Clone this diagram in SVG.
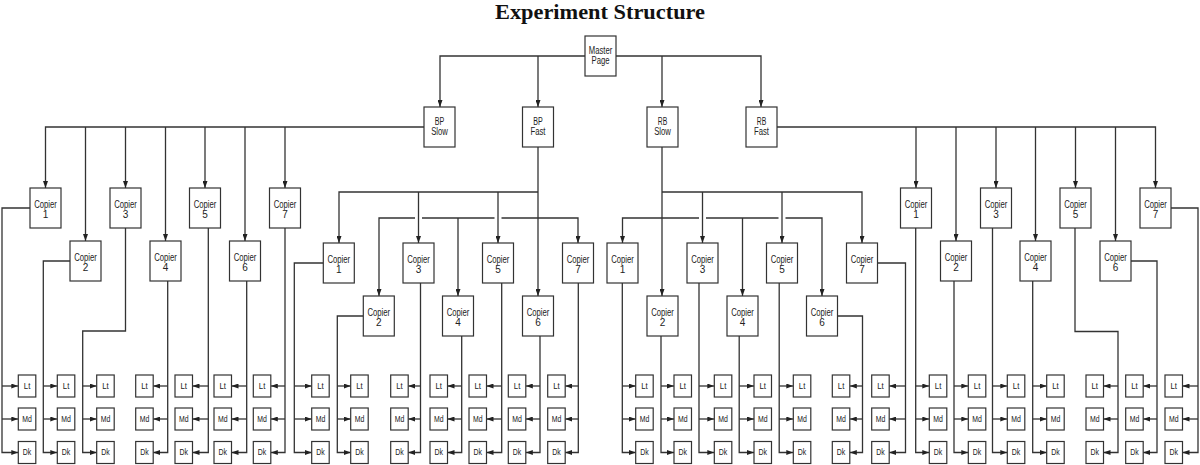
<svg xmlns="http://www.w3.org/2000/svg" width="1200" height="465" viewBox="0 0 1200 465">
<style>
rect{fill:#fff;stroke:#333;stroke-width:1.2}
text{font-family:"Liberation Sans",Arial,sans-serif;font-size:10px;text-anchor:middle;fill:#222}
text.s{font-size:9px}
text.title{font-family:"Liberation Serif","Times New Roman",serif;font-size:21px;font-weight:bold;fill:#111}
#connectors path{fill:none;stroke:#333;stroke-width:1.3}
#connectors path.a{marker-end:url(#arr)}
</style>
<defs>
<marker id="arr" viewBox="0 0 7 5" refX="7" refY="2.5" markerWidth="7" markerHeight="5" markerUnits="userSpaceOnUse" orient="auto"><path d="M0,0 L7,2.5 L0,5 z" fill="#222"/></marker>
</defs>
<rect x="0" y="0" width="1200" height="465" style="stroke:none;fill:#fff"/>
<text class="title" x="600" y="19" textLength="210" lengthAdjust="spacingAndGlyphs">Experiment Structure</text>

<g id="connectors">
<path class="a" d="M585,56 H440 V107"/>
<path class="a" d="M538,56 V107"/>
<path class="a" d="M616,56 H761 V107"/>
<path class="a" d="M662,56 V107"/>
<path class="a" d="M424,127 H45.5 V188"/>
<path class="a" d="M85.5,127 V241"/>
<path class="a" d="M125.5,127 V188"/>
<path class="a" d="M165.5,127 V241"/>
<path class="a" d="M205,127 V188"/>
<path class="a" d="M245,127 V241"/>
<path class="a" d="M285,127 V188"/>
<path class="a" d="M777,127 H1155.5 V188"/>
<path class="a" d="M916,127 V188"/>
<path class="a" d="M956,127 V241"/>
<path class="a" d="M996,127 V188"/>
<path class="a" d="M1035.5,127 V241"/>
<path class="a" d="M1075.5,127 V188"/>
<path class="a" d="M1115.5,127 V241"/>
<path class="a" d="M538,147 V296"/>
<path class="a" d="M538,192 H339 V243"/>
<path class="a" d="M418.5,192 V243"/>
<path class="a" d="M498,192 V243"/>
<path class="a" d="M415,218 H379 V296"/>
<path d="M422,218 H494.5"/>
<path class="a" d="M501.5,218 H578 V243"/>
<path class="a" d="M458,218 V296"/>
<path class="a" d="M662,147 V296"/>
<path class="a" d="M662,192 H862 V243"/>
<path class="a" d="M702.5,192 V243"/>
<path class="a" d="M782,192 V243"/>
<path class="a" d="M699,218 H622.5 V243"/>
<path d="M706,218 H778.5"/>
<path class="a" d="M785.5,218 H822 V296"/>
<path class="a" d="M742.5,218 V296"/>

<path class="a" d="M30,208 H2 V452.5 H18.3"/><path class="a" d="M2,386 H18.3"/><path class="a" d="M2,419 H18.3"/>
<path class="a" d="M70,261 H43.3 V452.5 H57.3"/><path class="a" d="M43.3,386 H57.3"/><path class="a" d="M43.3,419 H57.3"/>
<path class="a" d="M125.5,228 V331 H82.7 V452.5 H96.7"/><path class="a" d="M82.7,386 H96.7"/><path class="a" d="M82.7,419 H96.7"/>
<path class="a" d="M167.7,281 V452.5 H153.2"/><path class="a" d="M167.7,386 H153.2"/><path class="a" d="M167.7,419 H153.2"/>
<path class="a" d="M208.3,228 V452.5 H192.5"/><path class="a" d="M208.3,386 H192.5"/><path class="a" d="M208.3,419 H192.5"/>
<path class="a" d="M246.7,281 V452.5 H231.5"/><path class="a" d="M246.7,386 H231.5"/><path class="a" d="M246.7,419 H231.5"/>
<path class="a" d="M285,228 V452.5 H270.8"/><path class="a" d="M285,386 H270.8"/><path class="a" d="M285,419 H270.8"/>
<path class="a" d="M323.3,263 H294.3 V452.5 H311.7"/><path class="a" d="M294.3,386 H311.7"/><path class="a" d="M294.3,419 H311.7"/>
<path class="a" d="M363.3,316 H337.3 V452.5 H350.7"/><path class="a" d="M337.3,386 H350.7"/><path class="a" d="M337.3,419 H350.7"/>
<path class="a" d="M420.5,283 V452.5 H408.2"/><path class="a" d="M420.5,386 H408.2"/><path class="a" d="M420.5,419 H408.2"/>
<path class="a" d="M461.7,336 V452.5 H447.5"/><path class="a" d="M461.7,386 H447.5"/><path class="a" d="M461.7,419 H447.5"/>
<path class="a" d="M501.7,283 V452.5 H486.5"/><path class="a" d="M501.7,386 H486.5"/><path class="a" d="M501.7,419 H486.5"/>
<path class="a" d="M540,336 V452.5 H525.8"/><path class="a" d="M540,386 H525.8"/><path class="a" d="M540,419 H525.8"/>
<path class="a" d="M578.3,283 V452.5 H565.2"/><path class="a" d="M578.3,386 H565.2"/><path class="a" d="M578.3,419 H565.2"/>
<path class="a" d="M622.3,283 V452.5 H635.7"/><path class="a" d="M622.3,386 H635.7"/><path class="a" d="M622.3,419 H635.7"/>
<path class="a" d="M661,336 V452.5 H674"/><path class="a" d="M661,386 H674"/><path class="a" d="M661,419 H674"/>
<path class="a" d="M699,283 V452.5 H714.3"/><path class="a" d="M699,386 H714.3"/><path class="a" d="M699,419 H714.3"/>
<path class="a" d="M739.2,336 V452.5 H754"/><path class="a" d="M739.2,386 H754"/><path class="a" d="M739.2,419 H754"/>
<path class="a" d="M779.2,283 V452.5 H793.3"/><path class="a" d="M779.2,386 H793.3"/><path class="a" d="M779.2,419 H793.3"/>
<path class="a" d="M837.5,316 H862.5 V452.5 H849.8"/><path class="a" d="M862.5,386 H849.8"/><path class="a" d="M862.5,419 H849.8"/>
<path class="a" d="M877.5,263 H905.5 V452.5 H889.2"/><path class="a" d="M905.5,386 H889.2"/><path class="a" d="M905.5,419 H889.2"/>
<path class="a" d="M915.7,228 V452.5 H929.3"/><path class="a" d="M915.7,386 H929.3"/><path class="a" d="M915.7,419 H929.3"/>
<path class="a" d="M954,281 V452.5 H968.3"/><path class="a" d="M954,386 H968.3"/><path class="a" d="M954,419 H968.3"/>
<path class="a" d="M992.5,228 V452.5 H1007.3"/><path class="a" d="M992.5,386 H1007.3"/><path class="a" d="M992.5,419 H1007.3"/>
<path class="a" d="M1032.7,281 V452.5 H1046.7"/><path class="a" d="M1032.7,386 H1046.7"/><path class="a" d="M1032.7,419 H1046.7"/>
<path class="a" d="M1075,228 V331.5 H1118 V452.5 H1103.5"/><path class="a" d="M1118,386 H1103.5"/><path class="a" d="M1118,419 H1103.5"/>
<path class="a" d="M1131,261 H1157 V452.5 H1143.2"/><path class="a" d="M1157,386 H1143.2"/><path class="a" d="M1157,419 H1143.2"/>
<path class="a" d="M1171,208 H1198 V452.5 H1182.5"/><path class="a" d="M1198,386 H1182.5"/><path class="a" d="M1198,419 H1182.5"/>
</g>

<g id="master"><rect x="585" y="36" width="31" height="40"/><text x="600.5" y="53.5" textLength="23.5" lengthAdjust="spacingAndGlyphs">Master</text><text x="600.5" y="64" textLength="18" lengthAdjust="spacingAndGlyphs">Page</text></g>
<g id="bp-slow"><rect x="424" y="107" width="31" height="40"/><text x="439.5" y="124.5" textLength="9.5" lengthAdjust="spacingAndGlyphs">BP</text><text x="439.5" y="135" textLength="16.7" lengthAdjust="spacingAndGlyphs">Slow</text></g>
<g id="bp-fast"><rect x="522.5" y="107" width="31" height="40"/><text x="538" y="124.5" textLength="9.5" lengthAdjust="spacingAndGlyphs">BP</text><text x="538" y="135" textLength="15" lengthAdjust="spacingAndGlyphs">Fast</text></g>
<g id="rb-slow"><rect x="647" y="107" width="31" height="40"/><text x="662.5" y="124.5" textLength="9.5" lengthAdjust="spacingAndGlyphs">RB</text><text x="662.5" y="135" textLength="16.7" lengthAdjust="spacingAndGlyphs">Slow</text></g>
<g id="rb-fast"><rect x="746" y="107" width="31" height="40"/><text x="761.5" y="124.5" textLength="9.5" lengthAdjust="spacingAndGlyphs">RB</text><text x="761.5" y="135" textLength="15" lengthAdjust="spacingAndGlyphs">Fast</text></g>

<g id="bs-c1"><rect x="30" y="188" width="31" height="40"/><text x="45.5" y="208" textLength="22.7" lengthAdjust="spacingAndGlyphs">Copier</text><text x="45.5" y="218">1</text></g>
<g id="bs-c2"><rect x="70" y="241" width="31" height="40"/><text x="85.5" y="261" textLength="22.7" lengthAdjust="spacingAndGlyphs">Copier</text><text x="85.5" y="271">2</text></g>
<g id="bs-c3"><rect x="110" y="188" width="31" height="40"/><text x="125.5" y="208" textLength="22.7" lengthAdjust="spacingAndGlyphs">Copier</text><text x="125.5" y="218">3</text></g>
<g id="bs-c4"><rect x="150" y="241" width="31" height="40"/><text x="165.5" y="261" textLength="22.7" lengthAdjust="spacingAndGlyphs">Copier</text><text x="165.5" y="271">4</text></g>
<g id="bs-c5"><rect x="189.5" y="188" width="31" height="40"/><text x="205" y="208" textLength="22.7" lengthAdjust="spacingAndGlyphs">Copier</text><text x="205" y="218">5</text></g>
<g id="bs-c6"><rect x="229.5" y="241" width="31" height="40"/><text x="245" y="261" textLength="22.7" lengthAdjust="spacingAndGlyphs">Copier</text><text x="245" y="271">6</text></g>
<g id="bs-c7"><rect x="269.5" y="188" width="31" height="40"/><text x="285" y="208" textLength="22.7" lengthAdjust="spacingAndGlyphs">Copier</text><text x="285" y="218">7</text></g>
<g id="bf-c1"><rect x="323.3" y="243" width="31" height="40"/><text x="338.8" y="263" textLength="22.7" lengthAdjust="spacingAndGlyphs">Copier</text><text x="338.8" y="273">1</text></g>
<g id="bf-c2"><rect x="363.3" y="296" width="31" height="40"/><text x="378.8" y="316" textLength="22.7" lengthAdjust="spacingAndGlyphs">Copier</text><text x="378.8" y="326">2</text></g>
<g id="bf-c3"><rect x="403" y="243" width="31" height="40"/><text x="418.5" y="263" textLength="22.7" lengthAdjust="spacingAndGlyphs">Copier</text><text x="418.5" y="273">3</text></g>
<g id="bf-c4"><rect x="442.5" y="296" width="31" height="40"/><text x="458" y="316" textLength="22.7" lengthAdjust="spacingAndGlyphs">Copier</text><text x="458" y="326">4</text></g>
<g id="bf-c5"><rect x="482.5" y="243" width="31" height="40"/><text x="498" y="263" textLength="22.7" lengthAdjust="spacingAndGlyphs">Copier</text><text x="498" y="273">5</text></g>
<g id="bf-c6"><rect x="522.5" y="296" width="31" height="40"/><text x="538" y="316" textLength="22.7" lengthAdjust="spacingAndGlyphs">Copier</text><text x="538" y="326">6</text></g>
<g id="bf-c7"><rect x="562.5" y="243" width="31" height="40"/><text x="578" y="263" textLength="22.7" lengthAdjust="spacingAndGlyphs">Copier</text><text x="578" y="273">7</text></g>
<g id="rs-c1"><rect x="607" y="243" width="31" height="40"/><text x="622.5" y="263" textLength="22.7" lengthAdjust="spacingAndGlyphs">Copier</text><text x="622.5" y="273">1</text></g>
<g id="rs-c2"><rect x="647" y="296" width="31" height="40"/><text x="662.5" y="316" textLength="22.7" lengthAdjust="spacingAndGlyphs">Copier</text><text x="662.5" y="326">2</text></g>
<g id="rs-c3"><rect x="687" y="243" width="31" height="40"/><text x="702.5" y="263" textLength="22.7" lengthAdjust="spacingAndGlyphs">Copier</text><text x="702.5" y="273">3</text></g>
<g id="rs-c4"><rect x="727" y="296" width="31" height="40"/><text x="742.5" y="316" textLength="22.7" lengthAdjust="spacingAndGlyphs">Copier</text><text x="742.5" y="326">4</text></g>
<g id="rs-c5"><rect x="766.5" y="243" width="31" height="40"/><text x="782" y="263" textLength="22.7" lengthAdjust="spacingAndGlyphs">Copier</text><text x="782" y="273">5</text></g>
<g id="rs-c6"><rect x="806.5" y="296" width="31" height="40"/><text x="822" y="316" textLength="22.7" lengthAdjust="spacingAndGlyphs">Copier</text><text x="822" y="326">6</text></g>
<g id="rs-c7"><rect x="846.5" y="243" width="31" height="40"/><text x="862" y="263" textLength="22.7" lengthAdjust="spacingAndGlyphs">Copier</text><text x="862" y="273">7</text></g>
<g id="rf-c1"><rect x="900.5" y="188" width="31" height="40"/><text x="916" y="208" textLength="22.7" lengthAdjust="spacingAndGlyphs">Copier</text><text x="916" y="218">1</text></g>
<g id="rf-c2"><rect x="940.5" y="241" width="31" height="40"/><text x="956" y="261" textLength="22.7" lengthAdjust="spacingAndGlyphs">Copier</text><text x="956" y="271">2</text></g>
<g id="rf-c3"><rect x="980.5" y="188" width="31" height="40"/><text x="996" y="208" textLength="22.7" lengthAdjust="spacingAndGlyphs">Copier</text><text x="996" y="218">3</text></g>
<g id="rf-c4"><rect x="1020" y="241" width="31" height="40"/><text x="1035.5" y="261" textLength="22.7" lengthAdjust="spacingAndGlyphs">Copier</text><text x="1035.5" y="271">4</text></g>
<g id="rf-c5"><rect x="1060" y="188" width="31" height="40"/><text x="1075.5" y="208" textLength="22.7" lengthAdjust="spacingAndGlyphs">Copier</text><text x="1075.5" y="218">5</text></g>
<g id="rf-c6"><rect x="1100" y="241" width="31" height="40"/><text x="1115.5" y="261" textLength="22.7" lengthAdjust="spacingAndGlyphs">Copier</text><text x="1115.5" y="271">6</text></g>
<g id="rf-c7"><rect x="1140" y="188" width="31" height="40"/><text x="1155.5" y="208" textLength="22.7" lengthAdjust="spacingAndGlyphs">Copier</text><text x="1155.5" y="218">7</text></g>

<g id="bs1-lt"><rect x="18.3" y="375" width="17.5" height="22"/><text class="s" x="27.05" y="388.5" textLength="6.5" lengthAdjust="spacingAndGlyphs">Lt</text></g>
<g id="bs1-md"><rect x="18.3" y="408" width="17.5" height="22"/><text class="s" x="27.05" y="421.5" textLength="9.6" lengthAdjust="spacingAndGlyphs">Md</text></g>
<g id="bs1-dk"><rect x="18.3" y="441.5" width="17.5" height="22"/><text class="s" x="27.05" y="455" textLength="8.5" lengthAdjust="spacingAndGlyphs">Dk</text></g>
<g id="bs2-lt"><rect x="57.3" y="375" width="17.5" height="22"/><text class="s" x="66.05" y="388.5" textLength="6.5" lengthAdjust="spacingAndGlyphs">Lt</text></g>
<g id="bs2-md"><rect x="57.3" y="408" width="17.5" height="22"/><text class="s" x="66.05" y="421.5" textLength="9.6" lengthAdjust="spacingAndGlyphs">Md</text></g>
<g id="bs2-dk"><rect x="57.3" y="441.5" width="17.5" height="22"/><text class="s" x="66.05" y="455" textLength="8.5" lengthAdjust="spacingAndGlyphs">Dk</text></g>
<g id="bs3-lt"><rect x="96.7" y="375" width="17.5" height="22"/><text class="s" x="105.45" y="388.5" textLength="6.5" lengthAdjust="spacingAndGlyphs">Lt</text></g>
<g id="bs3-md"><rect x="96.7" y="408" width="17.5" height="22"/><text class="s" x="105.45" y="421.5" textLength="9.6" lengthAdjust="spacingAndGlyphs">Md</text></g>
<g id="bs3-dk"><rect x="96.7" y="441.5" width="17.5" height="22"/><text class="s" x="105.45" y="455" textLength="8.5" lengthAdjust="spacingAndGlyphs">Dk</text></g>
<g id="bs4-lt"><rect x="135.7" y="375" width="17.5" height="22"/><text class="s" x="144.45" y="388.5" textLength="6.5" lengthAdjust="spacingAndGlyphs">Lt</text></g>
<g id="bs4-md"><rect x="135.7" y="408" width="17.5" height="22"/><text class="s" x="144.45" y="421.5" textLength="9.6" lengthAdjust="spacingAndGlyphs">Md</text></g>
<g id="bs4-dk"><rect x="135.7" y="441.5" width="17.5" height="22"/><text class="s" x="144.45" y="455" textLength="8.5" lengthAdjust="spacingAndGlyphs">Dk</text></g>
<g id="bs5-lt"><rect x="175" y="375" width="17.5" height="22"/><text class="s" x="183.75" y="388.5" textLength="6.5" lengthAdjust="spacingAndGlyphs">Lt</text></g>
<g id="bs5-md"><rect x="175" y="408" width="17.5" height="22"/><text class="s" x="183.75" y="421.5" textLength="9.6" lengthAdjust="spacingAndGlyphs">Md</text></g>
<g id="bs5-dk"><rect x="175" y="441.5" width="17.5" height="22"/><text class="s" x="183.75" y="455" textLength="8.5" lengthAdjust="spacingAndGlyphs">Dk</text></g>
<g id="bs6-lt"><rect x="214" y="375" width="17.5" height="22"/><text class="s" x="222.75" y="388.5" textLength="6.5" lengthAdjust="spacingAndGlyphs">Lt</text></g>
<g id="bs6-md"><rect x="214" y="408" width="17.5" height="22"/><text class="s" x="222.75" y="421.5" textLength="9.6" lengthAdjust="spacingAndGlyphs">Md</text></g>
<g id="bs6-dk"><rect x="214" y="441.5" width="17.5" height="22"/><text class="s" x="222.75" y="455" textLength="8.5" lengthAdjust="spacingAndGlyphs">Dk</text></g>
<g id="bs7-lt"><rect x="253.3" y="375" width="17.5" height="22"/><text class="s" x="262.05" y="388.5" textLength="6.5" lengthAdjust="spacingAndGlyphs">Lt</text></g>
<g id="bs7-md"><rect x="253.3" y="408" width="17.5" height="22"/><text class="s" x="262.05" y="421.5" textLength="9.6" lengthAdjust="spacingAndGlyphs">Md</text></g>
<g id="bs7-dk"><rect x="253.3" y="441.5" width="17.5" height="22"/><text class="s" x="262.05" y="455" textLength="8.5" lengthAdjust="spacingAndGlyphs">Dk</text></g>
<g id="bf1-lt"><rect x="311.7" y="375" width="17.5" height="22"/><text class="s" x="320.45" y="388.5" textLength="6.5" lengthAdjust="spacingAndGlyphs">Lt</text></g>
<g id="bf1-md"><rect x="311.7" y="408" width="17.5" height="22"/><text class="s" x="320.45" y="421.5" textLength="9.6" lengthAdjust="spacingAndGlyphs">Md</text></g>
<g id="bf1-dk"><rect x="311.7" y="441.5" width="17.5" height="22"/><text class="s" x="320.45" y="455" textLength="8.5" lengthAdjust="spacingAndGlyphs">Dk</text></g>
<g id="bf2-lt"><rect x="350.7" y="375" width="17.5" height="22"/><text class="s" x="359.45" y="388.5" textLength="6.5" lengthAdjust="spacingAndGlyphs">Lt</text></g>
<g id="bf2-md"><rect x="350.7" y="408" width="17.5" height="22"/><text class="s" x="359.45" y="421.5" textLength="9.6" lengthAdjust="spacingAndGlyphs">Md</text></g>
<g id="bf2-dk"><rect x="350.7" y="441.5" width="17.5" height="22"/><text class="s" x="359.45" y="455" textLength="8.5" lengthAdjust="spacingAndGlyphs">Dk</text></g>
<g id="bf3-lt"><rect x="390.7" y="375" width="17.5" height="22"/><text class="s" x="399.45" y="388.5" textLength="6.5" lengthAdjust="spacingAndGlyphs">Lt</text></g>
<g id="bf3-md"><rect x="390.7" y="408" width="17.5" height="22"/><text class="s" x="399.45" y="421.5" textLength="9.6" lengthAdjust="spacingAndGlyphs">Md</text></g>
<g id="bf3-dk"><rect x="390.7" y="441.5" width="17.5" height="22"/><text class="s" x="399.45" y="455" textLength="8.5" lengthAdjust="spacingAndGlyphs">Dk</text></g>
<g id="bf4-lt"><rect x="430" y="375" width="17.5" height="22"/><text class="s" x="438.75" y="388.5" textLength="6.5" lengthAdjust="spacingAndGlyphs">Lt</text></g>
<g id="bf4-md"><rect x="430" y="408" width="17.5" height="22"/><text class="s" x="438.75" y="421.5" textLength="9.6" lengthAdjust="spacingAndGlyphs">Md</text></g>
<g id="bf4-dk"><rect x="430" y="441.5" width="17.5" height="22"/><text class="s" x="438.75" y="455" textLength="8.5" lengthAdjust="spacingAndGlyphs">Dk</text></g>
<g id="bf5-lt"><rect x="469" y="375" width="17.5" height="22"/><text class="s" x="477.75" y="388.5" textLength="6.5" lengthAdjust="spacingAndGlyphs">Lt</text></g>
<g id="bf5-md"><rect x="469" y="408" width="17.5" height="22"/><text class="s" x="477.75" y="421.5" textLength="9.6" lengthAdjust="spacingAndGlyphs">Md</text></g>
<g id="bf5-dk"><rect x="469" y="441.5" width="17.5" height="22"/><text class="s" x="477.75" y="455" textLength="8.5" lengthAdjust="spacingAndGlyphs">Dk</text></g>
<g id="bf6-lt"><rect x="508.3" y="375" width="17.5" height="22"/><text class="s" x="517.05" y="388.5" textLength="6.5" lengthAdjust="spacingAndGlyphs">Lt</text></g>
<g id="bf6-md"><rect x="508.3" y="408" width="17.5" height="22"/><text class="s" x="517.05" y="421.5" textLength="9.6" lengthAdjust="spacingAndGlyphs">Md</text></g>
<g id="bf6-dk"><rect x="508.3" y="441.5" width="17.5" height="22"/><text class="s" x="517.05" y="455" textLength="8.5" lengthAdjust="spacingAndGlyphs">Dk</text></g>
<g id="bf7-lt"><rect x="547.7" y="375" width="17.5" height="22"/><text class="s" x="556.45" y="388.5" textLength="6.5" lengthAdjust="spacingAndGlyphs">Lt</text></g>
<g id="bf7-md"><rect x="547.7" y="408" width="17.5" height="22"/><text class="s" x="556.45" y="421.5" textLength="9.6" lengthAdjust="spacingAndGlyphs">Md</text></g>
<g id="bf7-dk"><rect x="547.7" y="441.5" width="17.5" height="22"/><text class="s" x="556.45" y="455" textLength="8.5" lengthAdjust="spacingAndGlyphs">Dk</text></g>
<g id="rs1-lt"><rect x="635.7" y="375" width="17.5" height="22"/><text class="s" x="644.45" y="388.5" textLength="6.5" lengthAdjust="spacingAndGlyphs">Lt</text></g>
<g id="rs1-md"><rect x="635.7" y="408" width="17.5" height="22"/><text class="s" x="644.45" y="421.5" textLength="9.6" lengthAdjust="spacingAndGlyphs">Md</text></g>
<g id="rs1-dk"><rect x="635.7" y="441.5" width="17.5" height="22"/><text class="s" x="644.45" y="455" textLength="8.5" lengthAdjust="spacingAndGlyphs">Dk</text></g>
<g id="rs2-lt"><rect x="674" y="375" width="17.5" height="22"/><text class="s" x="682.75" y="388.5" textLength="6.5" lengthAdjust="spacingAndGlyphs">Lt</text></g>
<g id="rs2-md"><rect x="674" y="408" width="17.5" height="22"/><text class="s" x="682.75" y="421.5" textLength="9.6" lengthAdjust="spacingAndGlyphs">Md</text></g>
<g id="rs2-dk"><rect x="674" y="441.5" width="17.5" height="22"/><text class="s" x="682.75" y="455" textLength="8.5" lengthAdjust="spacingAndGlyphs">Dk</text></g>
<g id="rs3-lt"><rect x="714.3" y="375" width="17.5" height="22"/><text class="s" x="723.05" y="388.5" textLength="6.5" lengthAdjust="spacingAndGlyphs">Lt</text></g>
<g id="rs3-md"><rect x="714.3" y="408" width="17.5" height="22"/><text class="s" x="723.05" y="421.5" textLength="9.6" lengthAdjust="spacingAndGlyphs">Md</text></g>
<g id="rs3-dk"><rect x="714.3" y="441.5" width="17.5" height="22"/><text class="s" x="723.05" y="455" textLength="8.5" lengthAdjust="spacingAndGlyphs">Dk</text></g>
<g id="rs4-lt"><rect x="754" y="375" width="17.5" height="22"/><text class="s" x="762.75" y="388.5" textLength="6.5" lengthAdjust="spacingAndGlyphs">Lt</text></g>
<g id="rs4-md"><rect x="754" y="408" width="17.5" height="22"/><text class="s" x="762.75" y="421.5" textLength="9.6" lengthAdjust="spacingAndGlyphs">Md</text></g>
<g id="rs4-dk"><rect x="754" y="441.5" width="17.5" height="22"/><text class="s" x="762.75" y="455" textLength="8.5" lengthAdjust="spacingAndGlyphs">Dk</text></g>
<g id="rs5-lt"><rect x="793.3" y="375" width="17.5" height="22"/><text class="s" x="802.05" y="388.5" textLength="6.5" lengthAdjust="spacingAndGlyphs">Lt</text></g>
<g id="rs5-md"><rect x="793.3" y="408" width="17.5" height="22"/><text class="s" x="802.05" y="421.5" textLength="9.6" lengthAdjust="spacingAndGlyphs">Md</text></g>
<g id="rs5-dk"><rect x="793.3" y="441.5" width="17.5" height="22"/><text class="s" x="802.05" y="455" textLength="8.5" lengthAdjust="spacingAndGlyphs">Dk</text></g>
<g id="rs6-lt"><rect x="832.3" y="375" width="17.5" height="22"/><text class="s" x="841.05" y="388.5" textLength="6.5" lengthAdjust="spacingAndGlyphs">Lt</text></g>
<g id="rs6-md"><rect x="832.3" y="408" width="17.5" height="22"/><text class="s" x="841.05" y="421.5" textLength="9.6" lengthAdjust="spacingAndGlyphs">Md</text></g>
<g id="rs6-dk"><rect x="832.3" y="441.5" width="17.5" height="22"/><text class="s" x="841.05" y="455" textLength="8.5" lengthAdjust="spacingAndGlyphs">Dk</text></g>
<g id="rs7-lt"><rect x="871.7" y="375" width="17.5" height="22"/><text class="s" x="880.45" y="388.5" textLength="6.5" lengthAdjust="spacingAndGlyphs">Lt</text></g>
<g id="rs7-md"><rect x="871.7" y="408" width="17.5" height="22"/><text class="s" x="880.45" y="421.5" textLength="9.6" lengthAdjust="spacingAndGlyphs">Md</text></g>
<g id="rs7-dk"><rect x="871.7" y="441.5" width="17.5" height="22"/><text class="s" x="880.45" y="455" textLength="8.5" lengthAdjust="spacingAndGlyphs">Dk</text></g>
<g id="rf1-lt"><rect x="929.3" y="375" width="17.5" height="22"/><text class="s" x="938.05" y="388.5" textLength="6.5" lengthAdjust="spacingAndGlyphs">Lt</text></g>
<g id="rf1-md"><rect x="929.3" y="408" width="17.5" height="22"/><text class="s" x="938.05" y="421.5" textLength="9.6" lengthAdjust="spacingAndGlyphs">Md</text></g>
<g id="rf1-dk"><rect x="929.3" y="441.5" width="17.5" height="22"/><text class="s" x="938.05" y="455" textLength="8.5" lengthAdjust="spacingAndGlyphs">Dk</text></g>
<g id="rf2-lt"><rect x="968.3" y="375" width="17.5" height="22"/><text class="s" x="977.05" y="388.5" textLength="6.5" lengthAdjust="spacingAndGlyphs">Lt</text></g>
<g id="rf2-md"><rect x="968.3" y="408" width="17.5" height="22"/><text class="s" x="977.05" y="421.5" textLength="9.6" lengthAdjust="spacingAndGlyphs">Md</text></g>
<g id="rf2-dk"><rect x="968.3" y="441.5" width="17.5" height="22"/><text class="s" x="977.05" y="455" textLength="8.5" lengthAdjust="spacingAndGlyphs">Dk</text></g>
<g id="rf3-lt"><rect x="1007.3" y="375" width="17.5" height="22"/><text class="s" x="1016.05" y="388.5" textLength="6.5" lengthAdjust="spacingAndGlyphs">Lt</text></g>
<g id="rf3-md"><rect x="1007.3" y="408" width="17.5" height="22"/><text class="s" x="1016.05" y="421.5" textLength="9.6" lengthAdjust="spacingAndGlyphs">Md</text></g>
<g id="rf3-dk"><rect x="1007.3" y="441.5" width="17.5" height="22"/><text class="s" x="1016.05" y="455" textLength="8.5" lengthAdjust="spacingAndGlyphs">Dk</text></g>
<g id="rf4-lt"><rect x="1046.7" y="375" width="17.5" height="22"/><text class="s" x="1055.45" y="388.5" textLength="6.5" lengthAdjust="spacingAndGlyphs">Lt</text></g>
<g id="rf4-md"><rect x="1046.7" y="408" width="17.5" height="22"/><text class="s" x="1055.45" y="421.5" textLength="9.6" lengthAdjust="spacingAndGlyphs">Md</text></g>
<g id="rf4-dk"><rect x="1046.7" y="441.5" width="17.5" height="22"/><text class="s" x="1055.45" y="455" textLength="8.5" lengthAdjust="spacingAndGlyphs">Dk</text></g>
<g id="rf5-lt"><rect x="1086" y="375" width="17.5" height="22"/><text class="s" x="1094.75" y="388.5" textLength="6.5" lengthAdjust="spacingAndGlyphs">Lt</text></g>
<g id="rf5-md"><rect x="1086" y="408" width="17.5" height="22"/><text class="s" x="1094.75" y="421.5" textLength="9.6" lengthAdjust="spacingAndGlyphs">Md</text></g>
<g id="rf5-dk"><rect x="1086" y="441.5" width="17.5" height="22"/><text class="s" x="1094.75" y="455" textLength="8.5" lengthAdjust="spacingAndGlyphs">Dk</text></g>
<g id="rf6-lt"><rect x="1125.7" y="375" width="17.5" height="22"/><text class="s" x="1134.45" y="388.5" textLength="6.5" lengthAdjust="spacingAndGlyphs">Lt</text></g>
<g id="rf6-md"><rect x="1125.7" y="408" width="17.5" height="22"/><text class="s" x="1134.45" y="421.5" textLength="9.6" lengthAdjust="spacingAndGlyphs">Md</text></g>
<g id="rf6-dk"><rect x="1125.7" y="441.5" width="17.5" height="22"/><text class="s" x="1134.45" y="455" textLength="8.5" lengthAdjust="spacingAndGlyphs">Dk</text></g>
<g id="rf7-lt"><rect x="1165" y="375" width="17.5" height="22"/><text class="s" x="1173.75" y="388.5" textLength="6.5" lengthAdjust="spacingAndGlyphs">Lt</text></g>
<g id="rf7-md"><rect x="1165" y="408" width="17.5" height="22"/><text class="s" x="1173.75" y="421.5" textLength="9.6" lengthAdjust="spacingAndGlyphs">Md</text></g>
<g id="rf7-dk"><rect x="1165" y="441.5" width="17.5" height="22"/><text class="s" x="1173.75" y="455" textLength="8.5" lengthAdjust="spacingAndGlyphs">Dk</text></g>
</svg>
